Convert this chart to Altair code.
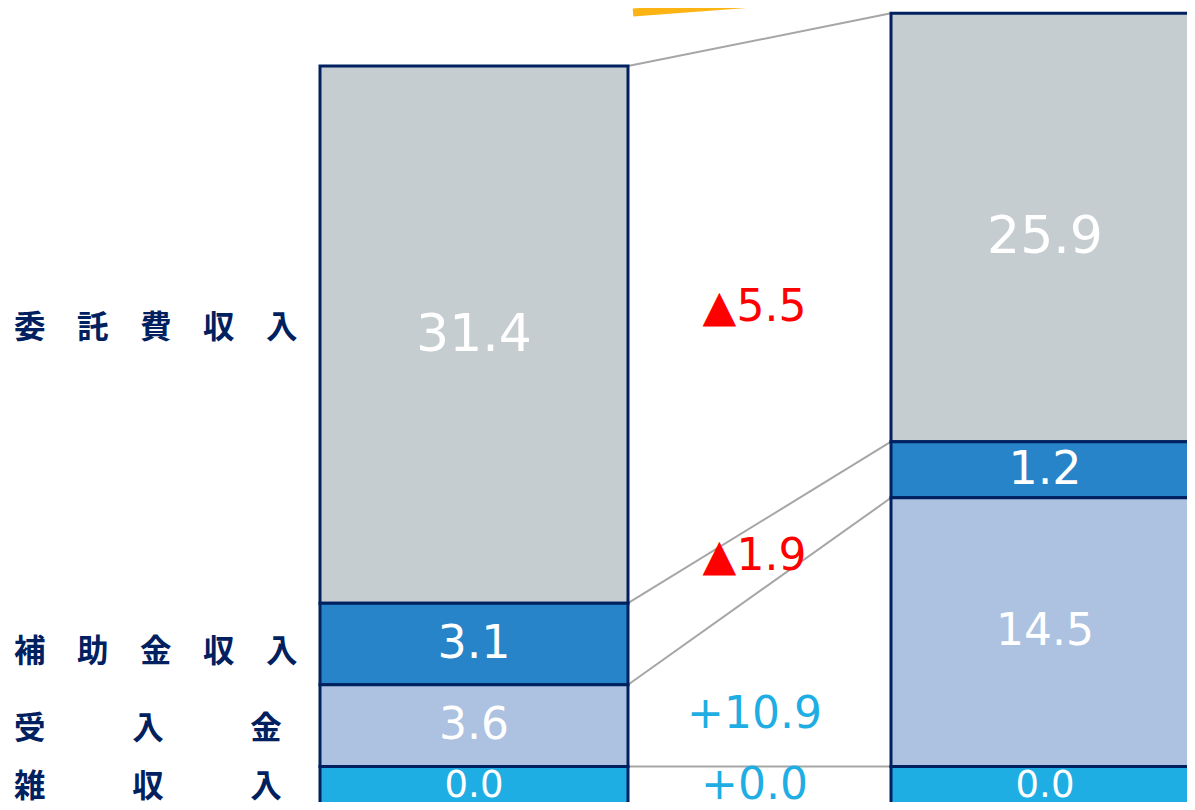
import altair as alt
import pandas as pd

# ---- data -------------------------------------------------------------
periods = ["前年度", "当年度"]
items = ["委託費収入", "補助金収入", "受入金", "雑収入"]
row_labels = [
    "委\u3000託\u3000費\u3000収\u3000入",
    "補\u3000助\u3000金\u3000収\u3000入",
    "受\u3000\u3000\u2002\u2005入\u3000\u3000\u2002\u2005金",
    "雑\u3000\u3000\u2002\u2005収\u3000\u3000\u2002\u2005入",
]
prev_values = [31.4, 3.1, 3.6, 0.0]
curr_values = [25.9, 1.2, 14.5, 0.0]
# drawn segment heights (the original figure is not drawn to scale)
prev_display = [31.6, 4.8, 4.8, 2.8]
curr_display = [25.2, 3.3, 15.8, 2.8]

item_colors = ["#c5cdd1", "#2784c8", "#adc1e0", "#1eaee3"]
value_sizes = [52, 46, 44, 37]

rows = []
for p_i, (p, vals, disp) in enumerate(
    [(periods[0], prev_values, prev_display), (periods[1], curr_values, curr_display)]
):
    for i, item in enumerate(items):
        rows.append(
            dict(period=p, pidx=p_i, item=item, order=i, label=row_labels[i],
                 value=vals[i], disp=disp[i])
        )
df = pd.DataFrame(rows)

W, H = 1179, 794
PX = 17.0          # pixels per display unit
HALF = 0.2697      # half bar width in x units

xscale = alt.Scale(domain=[-466 / 571, (W - 466) / 571], nice=False, zero=False)
ymin = 12 / PX
yscale = alt.Scale(domain=[ymin, ymin + H / PX], nice=False, zero=False)

base = (
    alt.Chart(df)
    .transform_stack(
        stack="disp", groupby=["period"], as_=["y0", "y1"],
        sort=[alt.SortField("order", order="descending")],
    )
    .transform_calculate(
        mid="(datum.y0 + datum.y1) / 2",
        xl=f"datum.pidx - {HALF}",
        xr=f"datum.pidx + {HALF}",
    )
)

bars = base.mark_bar(stroke="#002060", strokeWidth=3, clip=True).encode(
    x=alt.X("xl:Q", scale=xscale, axis=None),
    x2="xr:Q",
    y=alt.Y("y0:Q", scale=yscale, axis=None),
    y2="y1:Q",
    color=alt.Color("item:N", scale=alt.Scale(domain=items, range=item_colors), legend=None),
)

value_text = (
    base.transform_calculate(
        vy=f"datum.mid - ((datum.order == 0 && datum.pidx == 1) ? 9 : datum.order == 3 ? -4 : 0) / {PX}"
    )
    .mark_text(color="white", font="DejaVu Sans", baseline="middle", align="center")
    .encode(
        x=alt.X("pidx:Q", scale=xscale, axis=None),
        y=alt.Y("vy:Q", scale=yscale, axis=None),
        text=alt.Text("value:Q", format=".1f"),
        size=alt.Size("item:N", scale=alt.Scale(type="ordinal", domain=items, range=value_sizes), legend=None),
    )
)

row_text = (
    base.transform_filter("datum.pidx == 0")
    .transform_calculate(
        lab_y=f"datum.mid - (datum.order == 0 ? -6 : datum.order == 1 ? 9 : datum.order == 2 ? 4 : -2) / {PX}"
    )
    .mark_text(
        align="left", baseline="middle", font="Noto Sans CJK JP", fontWeight="bold",
        fontSize=31.5, color="#002060",
    )
    .encode(
        x=alt.value(6),
        y=alt.Y("lab_y:Q", scale=yscale, axis=None),
        text="label:N",
    )
)

agg = (
    base.transform_calculate(
        yl="datum.pidx == 0 ? datum.y1 : null",
        yr="datum.pidx == 1 ? datum.y1 : null",
        signed="datum.pidx == 1 ? datum.value : -datum.value",
    )
    .transform_aggregate(
        yl="max(yl)", yr="max(yr)", diff="sum(signed)", ym="mean(mid)",
        groupby=["item", "order"],
    )
    .transform_calculate(
        xa=f"{HALF}",
        xb=f"1 - {HALF}",
        xm="0.5",
        ylab=f"datum.ym - (datum.order == 0 ? 27 : datum.order == 2 ? 36 : datum.order == 3 ? -4 : 0) / {PX}",
        txt="datum.diff < -0.05 ? '▲' + format(-datum.diff, '.1f') : '+' + format(abs(datum.diff), '.1f')",
    )
)

connectors = agg.mark_rule(color="#a6a6a6", strokeWidth=2).encode(
    x=alt.X("xa:Q", scale=xscale, axis=None),
    x2="xb:Q",
    y=alt.Y("yl:Q", scale=yscale, axis=None),
    y2="yr:Q",
)

change_text = agg.mark_text(
    font="DejaVu Sans", fontSize=44, baseline="middle", align="center", dx=-5
).encode(
    x=alt.X("xm:Q", scale=xscale, axis=None),
    y=alt.Y("ylab:Q", scale=yscale, axis=None),
    text="txt:N",
    color=alt.condition("datum.diff < -0.05", alt.value("#ff0000"), alt.value("#1eaee4")),
)

arrow = alt.Chart(pd.DataFrame({"k": [0]})).mark_rule(
    color="#fbb414", strokeWidth=8
).encode(
    x=alt.value(625), y=alt.value(4.5), x2=alt.value(845), y2=alt.value(-12)
)

chart = (
    alt.layer(arrow, connectors, bars, value_text, row_text, change_text)
    .properties(width=W, height=H, padding=0,
                autosize=alt.AutoSizeParams(type="none"))
    .configure_view(stroke=None)
)

chart.save("out.html", embed_options={"renderer": "svg", "actions": False})
